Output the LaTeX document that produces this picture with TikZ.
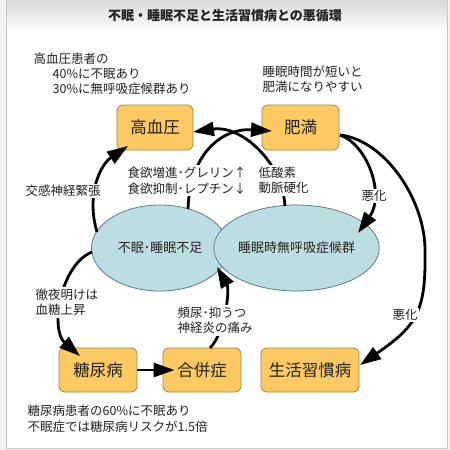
\documentclass[tikz,border=0pt]{standalone}
\usepackage{fontspec}
\setmainfont{Noto Sans CJK JP}
\usetikzlibrary{arrows.meta,shapes.geometric,calc}
\definecolor{boxfill}{HTML}{FCC963}
\definecolor{boxline}{HTML}{A88540}
\definecolor{ellfill}{HTML}{BCDEE2}
\definecolor{ellline}{HTML}{5F7A82}
\definecolor{txt}{HTML}{222222}
\begin{document}
\begin{tikzpicture}[x=1pt,y=-1pt,
  box/.style={draw=boxline, line width=0.8pt, fill=boxfill, rounded corners=6pt,
    minimum width=#1, minimum height=45pt, inner sep=0pt,
    font=\fontsize{16.5}{18}\selectfont, text=txt},
  ell/.style={ellipse, draw=ellline, line width=0.8pt, fill=ellfill,
    minimum width=137pt, minimum height=86pt, inner sep=0pt,
    font=\fontsize{13}{15}\selectfont, text=txt},
  lbl/.style={fill=white, inner sep=1.5pt, font=\fontsize{12.5}{15.5}\selectfont,
    text=txt, align=left},
  conn/.style={line width=2.8pt, -{Triangle[length=21pt,width=14pt]}},
]
\useasboundingbox (0,0) rectangle (450,450);
% background
\fill[gray!10] (0,0) rectangle (450,450);
\fill[white] (6,0) rectangle (447,448);
\shade[top color=gray!30, bottom color=white] (6,0) rectangle (447,32);
\draw[gray!45, line width=0.8pt] (6,0) -- (6,448) -- (447,448) -- (447,0);

\node[font=\bfseries\fontsize{13}{15}\selectfont, text=txt] (title) at (225,16) {不眠・睡眠不足と生活習慣病との悪循環};

% main nodes
\node[box=76pt] (ht) at (155,127.5) {高血圧};
\node[box=77pt] (hm) at (300.5,127.5) {肥満};
\node[ell] (ins) at (160,248) {不眠･睡眠不足};
\node[ell] (sas) at (296.5,248) {睡眠時無呼吸症候群};
\node[box=78pt, minimum height=44pt] (dm) at (98,370) {糖尿病};
\node[box=78pt, minimum height=44pt] (cp) at (202,370) {合併症};
\node[box=98pt, minimum height=44pt] (ls) at (310,370) {生活習慣病};

% connectors
\draw[conn] ($(ins)+(-63,-16)$) .. controls +(-11,-37) and +(-28,19) .. ($(ht)+(-27,18.5)$);
\draw[conn] ($(ins)+(28,-39)$) .. controls +(2,-59) and +(-47,-3) .. ($(hm)+(-28.5,3.5)$);
\draw[conn] ($(sas)+(-11.5,-42)$) .. controls +(-3,-46) and +(47,-7) .. ($(ht)+(38,4.5)$);
\draw[conn] ($(hm)+(39.5,7.5)$) .. controls +(28,10) and +(27,-38) .. ($(sas)+(61.5,-15)$);
\draw[conn] ($(hm)+(39.5,7.5)$) .. controls +(45,5) and +(0,-50) .. ($(sas)+(128.5,2)$)
   .. controls +(1,60) and +(58,-40) .. ($(ls)+(50,-5)$);
\draw[conn] ($(ins)+(-68,4)$) .. controls +(-32,13) and +(-30,-26) .. ($(dm)+(-18,-14)$);
\draw[conn] (dm.east) -- ($(cp.west)+(12,0)$);
\draw[conn] ($(cp)+(8,-22)$) .. controls +(15,-15) and +(13,23) .. ($(ins)+(57,19)$);

% labels
\node[lbl, anchor=west] (t1) at (32,59) {高血圧患者の};
\node[lbl, anchor=west] (t2) at (51,74) {40\%に不眠あり};
\node[lbl, anchor=west] (t3) at (51,89) {30\%に無呼吸症候群あり};
\node[lbl, anchor=west] (t4) at (261,79) {睡眠時間が短いと\\肥満になりやすい};
\node[lbl, anchor=west] (t5) at (24,191) {交感神経緊張};
\node[lbl, anchor=west] (t6) at (126,180.5) {食欲増進･グレリン↑\\食欲抑制･レプチン↓};
\node[lbl, anchor=west] (t7) at (257,180.5) {低酸素\\動脈硬化};
\node[lbl] (t8) at (374,196) {悪化};
\node[lbl, anchor=west] (t9) at (34,302.5) {徹夜明けは\\血糖上昇};
\node[lbl, anchor=west] (t10) at (176,320.5) {頻尿･抑うつ\\神経炎の痛み};
\node[lbl] (t11) at (405,315) {悪化};
\node[lbl, anchor=west] (t12) at (26,419) {糖尿病患者の60\%に不眠あり\\不眠症では糖尿病リスクが1.5倍};
\end{tikzpicture}
\end{document}
